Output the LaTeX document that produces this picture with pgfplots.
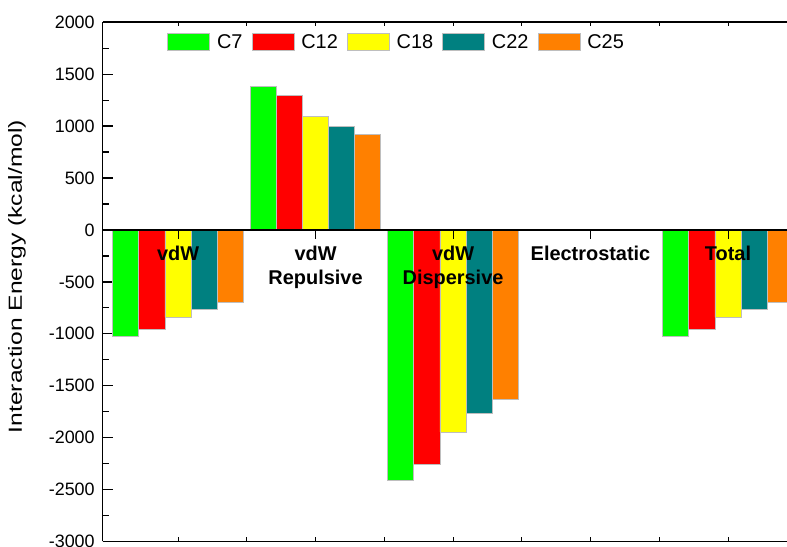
\documentclass[border=0pt]{standalone}
\usepackage{pgfplots}
\pgfplotsset{compat=1.18}
\usepackage{fontspec}
\setmainfont{Liberation Sans}
\usetikzlibrary{calc}

\definecolor{cgreen}{RGB}{0,255,0}
\definecolor{cred}{RGB}{255,0,0}
\definecolor{cyellow}{RGB}{255,255,0}
\definecolor{cteal}{RGB}{0,128,128}
\definecolor{corange}{RGB}{255,128,0}
\definecolor{edge}{RGB}{190,190,190}

\pgfplotsset{
  common/.style={
    scale only axis, width=684.3bp, height=519.2bp,
    xmin=-0.548, xmax=4.429, ymin=-3000, ymax=2000,
  },
}

\begin{document}
\begin{tikzpicture}
\begin{axis}[
  common,
  axis x line=none, axis y line*=left,
  axis line style={line width=1.6bp},
  ytick={-3000,-2500,...,2000},
  minor y tick num=1,
  xtick=\empty,
  tick align=inside,
  major tick length=10bp, minor tick length=6bp,
  every tick/.style={line width=1.3bp, black},
  yticklabel style={font=\fontsize{18}{20}\selectfont, xshift=-4.5bp},
  /pgf/number format/assume math mode=true,
  /pgf/number format/1000 sep={},
  ylabel={\scalebox{1.3}[1]{Interaction Energy (kcal/mol)}},
  ylabel style={font=\fontsize{19}{22}\selectfont, at={(axis description cs:-0.1252,0.5104)}, anchor=center},
  ybar=0pt, bar width=0.19,
  legend style={at={(axis description cs:0.0897,0.985)}, anchor=north west, draw=none, fill=none,
    legend columns=-1, font=\fontsize{20}{22}\selectfont,
    /tikz/every odd column/.append style={column sep=5bp},
    /tikz/every even column/.append style={column sep=7bp}},
  legend image code/.code={\draw[#1] (0bp,-8.5bp) rectangle (42bp,8.5bp);},
]
\addplot[fill=cgreen, draw=edge, line width=0.8bp] coordinates {(0,-1027) (1,1380) (2,-2414) (3,0) (4,-1027)};
\addplot[fill=cred, draw=edge, line width=0.8bp] coordinates {(0,-956) (1,1293) (2,-2257) (3,0) (4,-956)};
\addplot[fill=cyellow, draw=edge, line width=0.8bp] coordinates {(0,-841) (1,1091) (2,-1945) (3,0) (4,-841)};
\addplot[fill=cteal, draw=edge, line width=0.8bp] coordinates {(0,-764) (1,995) (2,-1769) (3,0) (4,-764)};
\addplot[fill=corange, draw=edge, line width=0.8bp] coordinates {(0,-696) (1,922) (2,-1628) (3,0) (4,-696)};
\legend{C7, C12, C18, C22, C25}
\coordinate (bl) at (rel axis cs:0,0);
\coordinate (tr) at (rel axis cs:1,1);
\end{axis}

% top and bottom frame lines with small ticks
\begin{axis}[
  common,
  axis x line*=box, axis y line=none,
  axis line style={line width=1.6bp},
  xtick={0,0.5,...,4}, xticklabels={},
  ytick=\empty,
  tick align=inside, major tick length=4bp,
  every tick/.style={line width=1bp, black},
]
\end{axis}

% zero line with category labels
\begin{axis}[
  common,
  axis x line*=middle, axis y line=none,
  axis line style={line width=1.6bp},
  xtick={0,1,2,3,4},
  xticklabels={vdW, {vdW\\Repulsive}, {vdW\\Dispersive}, Electrostatic, Total},
  xticklabel style={font=\bfseries\fontsize{20}{24.5}\selectfont, align=center, anchor=north, yshift=-3.5bp},
  ytick=\empty,
  tick align=outside, major tick length=9bp,
  every tick/.style={line width=1bp, black},
]
\end{axis}

\pgfresetboundingbox
\path[use as bounding box] ($(bl)+(-102.7bp,-5.5bp)$) rectangle ($(tr)+(0bp,22.3bp)$);
\end{tikzpicture}
\end{document}
